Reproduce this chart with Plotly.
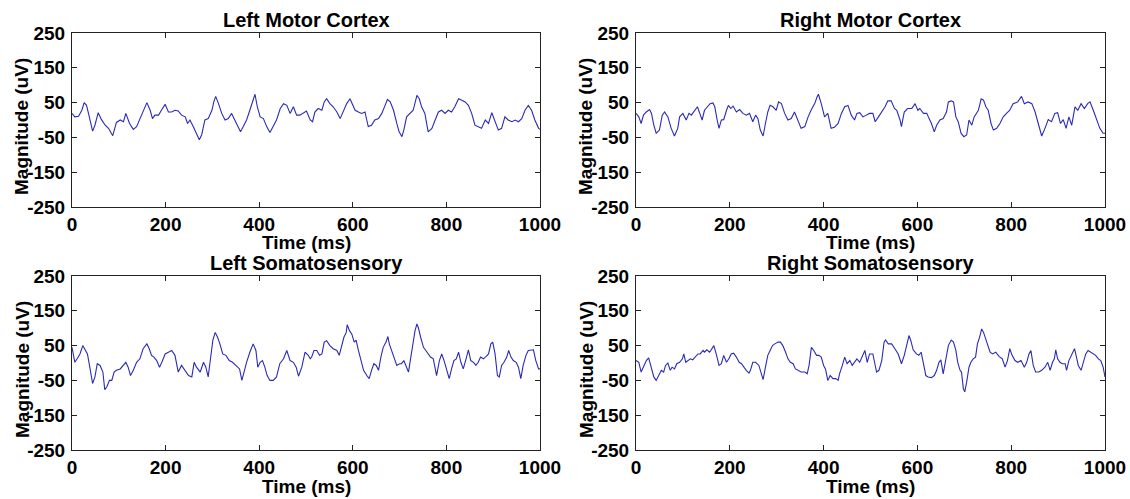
import plotly.graph_objects as go

# ---------------- data ----------------
lmc_t = [0, 6, 14, 21, 26, 31, 37, 44, 49, 56, 63, 71, 78, 87, 95, 103, 110, 115, 123, 131,
         138, 145, 152, 160, 167, 172, 177, 185, 192, 199, 206, 213, 220, 227, 234, 242, 247, 252, 259, 266,
         272, 277, 284, 291, 299, 303, 307, 313, 320, 327, 334, 341, 348, 355, 360, 366, 373, 380, 388, 391,
         396, 402, 409, 416, 423, 430, 437, 445, 452, 459, 466, 473, 480, 487, 494, 501, 509,
         514, 519, 526, 534, 539, 544, 551, 558, 566, 573, 580, 587, 594, 600, 605, 612, 619, 626, 633, 640,
         647, 655, 662, 669, 674, 680, 687, 694, 699, 705, 709, 715, 722, 729, 737, 742, 747, 754, 761, 769,
         776, 783, 790, 797, 804, 811, 818, 826, 833, 840, 847, 854, 861, 868, 875, 883, 890, 897, 904, 911,
         918, 925, 932, 940, 947, 954, 961, 968, 975, 982, 989, 997, 1000]
lmc_v = [19, 9, 11, 28, 50, 42, 9, -32, -15, 21, 1, -15, -24, -45, -7, 0, -5, 19, -10, -27,
         -19, 4, 28, 50, 28, 4, 14, 14, 30, 45, 23, 23, 28, 26, 14, 9, -10, 0, -19, -38,
         -57, -43, 0, 4, 28, 52, 68, 47, 19, 0, 4, 19, 0, -19, -34, -19, 0, 28, 61, 74,
         38, 9, 4, -19, -36, -19, 0, 33, 47, 42, 19, 38, 14, 14, 19, 26, 0,
         -5, 23, 33, 28, 52, 61, 47, 38, 23, 4, 28, 47, 61, 42, 28, 23, 19, 23, -19, -15,
         0, 4, 19, 42, 59, 52, 28, -10, -34, -48, -29, 9, 19, 28, 71, 61, 38, 19, -34, -24,
         0, 23, 28, 19, 28, 23, 38, 61, 57, 52, 42, 19, -15, -19, -24, 0, -10, 21, -5, -29,
         -24, 9, 0, -5, 0, -5, 4, 28, 42, 28, 0, -24, -27]

rmc_t = [0, 6, 11, 16, 22, 29, 33, 38, 43, 50, 56, 61, 68, 75, 82, 89, 93, 100, 107, 113,
         118, 125, 131, 136, 141, 146, 153, 158, 164, 168, 173, 177, 182, 187, 193, 197, 202, 207, 214, 221,
         228, 235, 242, 249, 255, 260, 265, 271, 276, 281, 286, 292, 299, 304, 310, 317, 324, 331, 338, 345,
         352, 360, 367, 374, 381, 386, 389, 395, 402, 409, 416, 423, 431, 438, 445, 452, 459, 466, 471, 477,
         484, 491, 498, 505,
         510, 517, 524, 531, 537, 544, 551, 556, 563, 566, 572, 579, 588, 595, 601, 605, 613, 620, 625, 630,
         636, 641, 648, 655, 662, 666, 672, 677, 682, 687, 693, 699, 705, 710, 716, 721, 730, 736, 741, 746,
         751, 757, 762, 769, 776, 783, 790, 797, 804, 814, 822, 828, 836, 844, 851, 858, 865, 872, 879, 886,
         893, 899, 905, 911, 917, 923, 929, 936, 942, 949, 956, 963, 968, 975, 982, 989, 996, 1000]
rmc_v = [19, 9, -10, 14, 23, 30, 19, -15, -38, -29, 14, 23, 9, -24, -46, -24, 9, 19, 0, 19,
         14, 28, 38, 19, 0, 28, 38, 47, 49, 38, 0, -24, 0, 1, 28, 42, 33, 40, 23, 30,
         19, 14, 19, -5, 14, 4, -29, -46, -10, 23, 42, 38, 28, 52, 47, 19, 0, 4, 23, 0,
         -24, -19, 9, 30, 47, 66, 74, 47, 9, 19, -24, -21, -10, 19, 38, 42, 14, 0, 19, 21,
         9, 14, 19, 19,
         -5, 9, 23, 38, 55, 55, 33, 28, 0, -19, 23, 33, 33, 47, 28, 33, 19, 19, 4, -10,
         -34, -15, 0, 4, 23, 52, 55, 52, 9, -5, -38, -48, -43, 0, -15, 9, 28, 61, 57, 38,
         28, -10, -29, -24, -10, 9, 19, 28, 47, 52, 68, 47, 52, 47, 23, -15, -46, -24, 1, -5,
         19, 21, -10, 1, -24, 9, -15, 38, 28, 47, 33, 47, 52, 28, 0, -24, -38, -38]

lss_t = [0, 6, 11, 17, 23, 28, 33, 38, 44, 49, 54, 60, 66, 70, 75, 80, 85, 90, 95, 103,
         110, 115, 120, 125, 131, 138, 145, 152, 160, 165, 170, 175, 181, 187, 192, 199, 206, 213, 220, 227,
         234, 241, 249, 256, 261, 266, 274, 281, 286, 291, 296, 301, 306, 311, 316, 322, 329, 336, 343, 350,
         358, 363, 368, 373, 380, 387, 393, 397, 402, 407, 412, 417, 423, 430, 437, 444, 452, 459, 466, 473,
         479, 484, 491, 498, 505, 509,
         512, 517, 523, 529, 534, 539, 544, 551, 558, 566, 571, 576, 581, 586, 588, 593, 598, 603, 607, 612,
         617, 623, 630, 635, 640, 645, 650, 655, 660, 665, 671, 675, 678, 683, 688, 694, 700, 704, 709, 714,
         719, 724, 729, 733, 737, 740, 745, 751, 756, 761, 766, 772, 776, 779, 785, 790, 795, 801, 806, 811,
         816, 821, 826, 831, 836, 842, 847, 852, 858, 863, 868, 873, 879, 885, 890, 895, 899, 904, 909, 913,
         918, 923, 929, 933, 938, 943, 949, 954, 959, 964, 970, 975, 982, 986, 991, 997, 1000]
lss_v = [45, 2, 12, 26, 50, 36, 26, -12, -59, -40, -2, -7, -26, -77, -67, -50, -50, -26, -21, -17,
         -7, 2, -12, -36, -21, 2, 12, 41, 55, 41, 22, 17, 7, -12, 2, 26, 31, 36, 22, -26,
         -7, -21, -36, -40, 2, -12, -26, 2, -12, -40, 22, 66, 88, 74, 55, 26, 22, 7, 2, -7,
         -17, -50, -21, 2, 31, 55, 36, -12, 2, 7, -12, -36, -50, -50, -40, -2, 12, 36, 7, 2,
         -12, -38, -12, 31, 22, 12,
         17, 36, 36, 22, 26, 60, 64, 50, 41, 36, 22, 45, 74, 88, 110, 93, 83, 60, 66, 36,
         12, -21, -36, -45, -21, -2, -7, -21, 17, 45, 60, 76, 55, 36, 12, -7, -2, -2, 7, -7,
         -26, 17, 64, 93, 112, 102, 74, 45, 36, 26, 17, 12, -17, -36, 7, 26, 7, -21, -45, -17,
         7, 12, 31, 2, -17, 12, 38, 7, 2, -7, 2, 17, 12, 19, 26, 55, 60, 26, -36, -40,
         -7, 2, 17, 36, 17, 7, 2, -12, -45, -7, 22, 36, 36, 38, 7, -17, -17]

rss_t = [0, 6, 11, 16, 22, 27, 33, 38, 43, 49, 54, 59, 63, 68, 73, 77, 82, 87, 93, 99,
         102, 106, 111, 116, 121, 127, 132, 137, 143, 146, 151, 157, 163, 166, 171, 177, 182, 187, 193, 198,
         203, 208, 214, 220, 225, 230, 235, 241, 244, 249, 255, 262, 266, 271, 276, 281, 286, 291, 296, 303,
         308, 313, 319, 324, 329, 335, 340, 345, 352, 360, 365, 369, 374, 379, 385, 390, 395, 400, 404, 409,
         414, 420, 426, 431, 434, 440, 445, 450, 456, 461, 466, 471, 477, 483, 488, 493, 498, 505,
         508, 513, 518, 524, 529, 532, 538, 545, 552, 559, 566, 572, 577, 582, 586, 591, 598, 603, 608, 613,
         618, 623, 630, 636, 641, 646, 650, 655, 660, 666, 672, 677, 682, 686, 691, 694, 698, 701, 705, 710,
         714, 719, 724, 728, 733, 737, 741, 746, 751, 755, 760, 767, 774, 781, 787, 792, 797, 802, 808, 814,
         821, 828, 833, 838, 842, 847, 852, 859, 865, 872, 878, 883, 888, 892, 895, 899, 904, 909, 915, 918,
         923, 929, 935, 940, 943, 949, 954, 959, 964, 970, 975, 980, 986, 991, 996, 1000]
rss_v = [7, 2, -26, -12, 7, 15, -12, -40, -50, -36, -21, -26, -7, 0, -21, -12, -17, -2, 2, 12,
         26, 2, 7, 12, 9, 17, 26, 26, 36, 31, 38, 31, 45, 50, 26, -7, -2, 22, 2, 12,
         26, 28, 17, 2, -2, -12, -21, -29, -21, 2, 2, -7, -26, -48, -12, 22, 36, 50, 55, 60,
         60, 50, 31, 12, 2, -2, -17, -21, -26, -26, -31, -7, 45, 36, 22, 22, 17, -7, -17, -50,
         -36, -45, -45, -50, -31, -7, 17, -2, 7, -7, 2, 12, 2, 22, 36, 2, 26, 26,
         7, -26, -21, 7, 60, 66, 55, 55, 41, 26, -2, 22, 50, 79, 64, 38, 26, 22, 31, 2,
         -36, -40, -42, -36, -21, 2, 9, -31, 2, 50, 66, 60, 36, 2, -21, -26, -74, -83, -55, -12,
         2, 12, 17, 55, 76, 98, 88, 69, 50, 31, 26, 31, 19, 12, -12, 7, 41, 22, 7, 2,
         7, -12, 2, 26, 36, -7, -26, -26, -21, -12, 2, -21, 2, 12, 38, 12, 2, -2, -2, -21,
         7, 22, 41, 12, -7, -21, 2, 26, 36, 31, 26, 22, 12, 7, -12, -40]

titles = ["Left Motor Cortex", "Right Motor Cortex", "Left Somatosensory", "Right Somatosensory"]
x_ticks = [0, 200, 400, 600, 800, 1000]
y_ticks = [-250, -150, -50, 50, 150, 250]
y_tick_text = ["-250", "-150", "-50", "50", "150", "250"]
x_label = "Time (ms)"
y_label = "Magnitude (uV)"

# ---------------- layout ----------------
W, H = 1130, 499
FONT = "Liberation Sans, Arial, sans-serif"
LINE_COLOR = "#2a2ab8"

# pixel boxes (left, right, top, bottom)
boxes = [(72, 540, 33, 207), (636, 1105, 33, 207),
         (72, 540, 276, 450), (636, 1105, 276, 450)]
series = [(lmc_t, lmc_v), (rmc_t, rmc_v), (lss_t, lss_v), (rss_t, rss_v)]

fig = go.Figure()
layout = dict(width=W, height=H, autosize=False,
              margin=dict(l=0, r=0, t=0, b=0, pad=0, autoexpand=False),
              paper_bgcolor="white", plot_bgcolor="white",
              showlegend=False, annotations=[])

for i, ((l, r, t, b), (xs, ys), title) in enumerate(zip(boxes, series, titles)):
    n = "" if i == 0 else str(i + 1)
    fig.add_trace(go.Scatter(x=xs, y=ys, mode="lines",
                             line=dict(color=LINE_COLOR, width=1.1),
                             xaxis="x" + n, yaxis="y" + n, hoverinfo="skip"))
    axis_common = dict(showline=True, linecolor="#222", linewidth=1, mirror="ticks",
                       ticks="inside", ticklen=5, tickcolor="#222", showgrid=False,
                       zeroline=False, fixedrange=True, automargin=False,
                       tickfont=dict(family=FONT, size=19, color="black", weight="bold"))
    layout["xaxis" + n] = dict(axis_common, domain=[l / W, r / W], range=[0, 1000],
                               tickvals=x_ticks, anchor="y" + n)
    layout["yaxis" + n] = dict(axis_common, domain=[1 - b / H, 1 - t / H], range=[-250, 250],
                               tickvals=y_ticks, ticktext=y_tick_text,
                               anchor="x" + n, ticklabelstandoff=2)
    cx = (l + r) / 2 / W
    title_y = t - 13
    xlab_y = b + 36
    layout["annotations"] += [
        dict(text=title, x=cx, y=1 - title_y / H, xref="paper", yref="paper",
             showarrow=False, xanchor="center", yanchor="middle",
             font=dict(family=FONT, size=20, color="black", weight="bold")),
        dict(text=x_label, x=cx, y=1 - xlab_y / H, xref="paper", yref="paper",
             showarrow=False, xanchor="center", yanchor="middle",
             font=dict(family=FONT, size=19, color="black", weight="bold")),
        dict(text=y_label, x=(l - 50) / W, y=1 - ((t + b) / 2 + 7) / H, xref="paper", yref="paper",
             showarrow=False, xanchor="center", yanchor="middle", textangle=-90,
             font=dict(family=FONT, size=19, color="black", weight="bold")),
    ]

fig.update_layout(**layout)
fig.write_html("out.html")
